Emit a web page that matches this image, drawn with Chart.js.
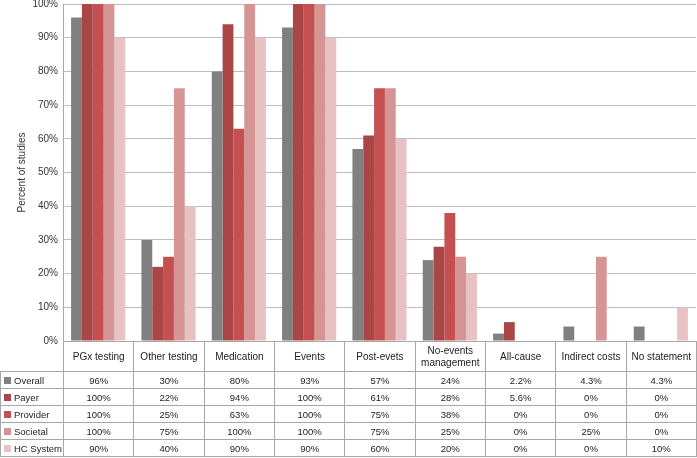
<!DOCTYPE html>
<html>
<head>
<meta charset="utf-8">
<script src="https://cdn.jsdelivr.net/npm/chart.js@4"></script>
<style>
  body { margin: 0; background: #fff; font-family: 'Liberation Sans', Arial, sans-serif; }
  #wrap { position: relative; width: 697px; height: 458px; }
  #dataTable { position: absolute; border-collapse: collapse; table-layout: fixed; color: #222; }
  #dataTable td { border: 1px solid #a8a8a8; padding: 0; text-align: center; font-size: 9.5px; overflow: hidden; }
  #dataTable tr.head td { font-size: 10px; line-height: 12px; }
  #dataTable td.first { text-align: left; font-size: 9.5px; white-space: nowrap; }
  #dataTable tr.head td.first { border-top: none; border-left: none; }
  .sw { display: inline-block; width: 7px; height: 7px; margin: 0 3px 0 3px; vertical-align: -0.5px; }
</style>
</head>
<body>
<div id="wrap">
  <canvas id="chart" width="697" height="458"></canvas>
</div>
<script>
const categories = ['PGx testing', 'Other testing', 'Medication', 'Events', 'Post-evets',
  'No-events management', 'All-cause', 'Indirect costs', 'No statement'];
const seriesNames = ['Overall', 'Payer', 'Provider', 'Societal', 'HC System'];
const overall  = [96, 30, 80, 93, 57, 24, 2.2, 4.3, 4.3];
const payer    = [100, 22, 94, 100, 61, 28, 5.6, 0, 0];
const provider = [100, 25, 63, 100, 75, 38, 0, 0, 0];
const societal = [100, 75, 100, 100, 75, 25, 0, 25, 0];
const hcSystem = [90, 40, 90, 90, 60, 20, 0, 0, 10];
const yTicks = [0, 10, 20, 30, 40, 50, 60, 70, 80, 90, 100];

const COLORS = ['#808080', '#ab4646', '#c4504f', '#d59595', '#e8c1c2'];
const seriesData = [overall, payer, provider, societal, hcSystem];

const chart = new Chart(document.getElementById('chart'), {
  type: 'bar',
  data: {
    labels: categories,
    datasets: seriesNames.map((name, i) => ({
      label: name,
      data: seriesData[i],
      backgroundColor: COLORS[i],
      borderWidth: 0,
      barPercentage: 1,
      categoryPercentage: 0.77,
    })),
  },
  options: {
    responsive: false,
    animation: false,
    layout: { padding: { top: 4, right: 1, bottom: 117, left: 0 } },
    plugins: { legend: { display: false }, tooltip: { enabled: false } },
    scales: {
      x: {
        ticks: { display: false },
        grid: { display: false, drawTicks: false },
        border: { display: false },
      },
      y: {
        min: 0, max: 100,
        afterBuildTicks: (s) => { s.ticks = yTicks.map(v => ({ value: v })); },
        afterFit: (s) => { s.width = 63; s.paddingTop = 0; s.paddingBottom = 0; },
        ticks: {
          padding: 5,
          color: '#333',
          font: { family: 'Liberation Sans', size: 10 },
          callback: (v) => v + '%',
        },
        grid: { color: '#bdbdbd', lineWidth: 1, drawTicks: false },
        border: { display: true, color: '#a8a8a8' },
        title: {
          display: true,
          text: 'Percent of studies',
          color: '#333',
          font: { family: 'Liberation Sans', size: 10 },
          padding: { top: 16, bottom: 0 },
        },
      },
    },
  },
});

// ── data table under the plot, columns lined up with the x scale ──
(function buildTable() {
  const area = chart.chartArea;
  const colW = (area.right - area.left) / categories.length;
  const table = document.createElement('table');
  table.id = 'dataTable';
  table.style.left = '0px';
  table.style.top = Math.round(area.bottom) + 'px';
  table.style.width = Math.round(area.right) + 'px';

  const cg = document.createElement('colgroup');
  const c0 = document.createElement('col');
  c0.style.width = area.left + 'px';
  cg.appendChild(c0);
  categories.forEach(() => {
    const c = document.createElement('col');
    c.style.width = colW + 'px';
    cg.appendChild(c);
  });
  table.appendChild(cg);

  const head = document.createElement('tr');
  head.className = 'head';
  head.style.height = '30px';
  const h0 = document.createElement('td');
  h0.className = 'first';
  head.appendChild(h0);
  categories.forEach((cat) => {
    const td = document.createElement('td');
    td.textContent = cat;
    head.appendChild(td);
  });
  table.appendChild(head);

  seriesNames.forEach((name, i) => {
    const tr = document.createElement('tr');
    tr.style.height = '17px';
    const first = document.createElement('td');
    first.className = 'first';
    const sw = document.createElement('span');
    sw.className = 'sw';
    sw.style.background = COLORS[i];
    first.appendChild(sw);
    first.appendChild(document.createTextNode(name));
    tr.appendChild(first);
    seriesData[i].forEach((v) => {
      const td = document.createElement('td');
      td.textContent = v + '%';
      tr.appendChild(td);
    });
    table.appendChild(tr);
  });

  document.getElementById('wrap').appendChild(table);
})();
</script>
</body>
</html>
